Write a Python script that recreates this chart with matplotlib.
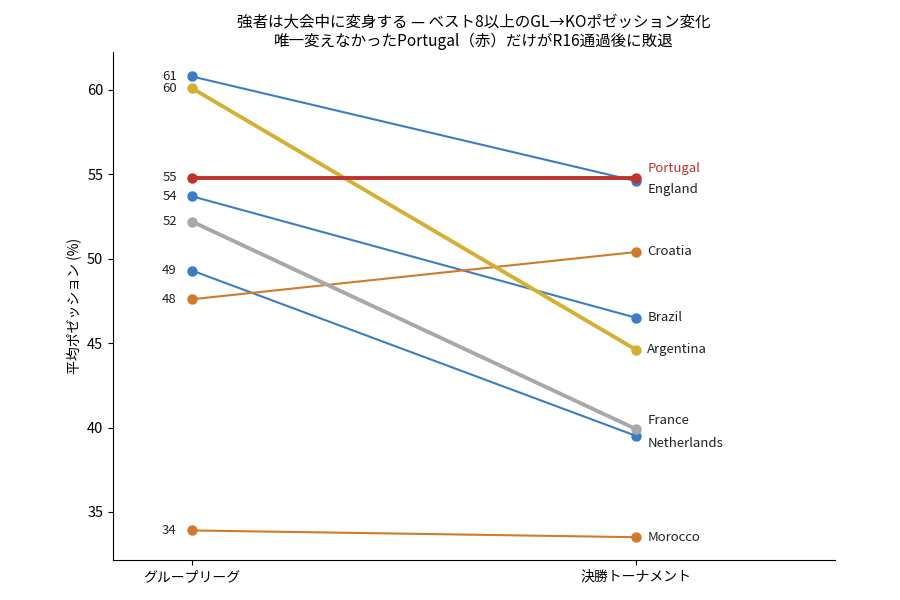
import matplotlib
matplotlib.use("Agg")
import matplotlib.pyplot as plt

plt.rcParams['font.family'] = ['Noto Sans CJK JP', 'DejaVu Sans']

stages = ["グループリーグ", "決勝トーナメント"]
teams = ["England", "Argentina", "Portugal", "Brazil", "France", "Netherlands", "Croatia", "Morocco"]
group_vals = [60.8, 60.1, 54.8, 53.7, 52.2, 49.3, 47.6, 33.9]
ko_vals = [54.6, 44.6, 54.8, 46.5, 39.9, 39.5, 50.4, 33.5]
colors = ["#3a7dc6", "#d4b032", "#c0332c", "#3a7dc6", "#a8a8a8", "#3a7dc6", "#d07b2c", "#d07b2c"]
highlight = ["Portugal", "Argentina", "France"]
right_offsets = {"Portugal": 9, "England": -8, "France": 9, "Netherlands": -8}

fig = plt.figure(figsize=(9, 6), dpi=100)
ax = fig.add_axes([0.1256, 0.0667, 0.8024, 0.8466])

order = [i for i, t in enumerate(teams) if t not in highlight] + \
        [teams.index(t) for t in ["France", "Argentina", "Portugal"]]
for i in order:
    t = teams[i]
    lw = 2.8 if t in highlight else 1.5
    ax.plot([0, 1], [group_vals[i], ko_vals[i]], color=colors[i], lw=lw,
            marker="o", markersize=6.5, zorder=3 if t in highlight else 2)

for i, t in enumerate(teams):
    ax.annotate(f"{round(group_vals[i])}", (0, group_vals[i]), xytext=(-11, 0),
                textcoords="offset points", ha="right", va="center", fontsize=9.5,
                color="#222222")
    ax.annotate(t, (1, ko_vals[i]), xytext=(8, right_offsets.get(t, 0) * 0.72),
                textcoords="offset points", ha="left", va="center", fontsize=9.5,
                color="#c0332c" if t == "Portugal" else "#222222")

ax.set_xlim(-0.178, 1.448)
ax.set_ylim(32.15, 62.25)
ax.set_xticks([0, 1])
ax.set_xticklabels(stages, fontsize=10)
ax.set_yticks([35, 40, 45, 50, 55, 60])
ax.tick_params(axis="y", labelsize=10.5)
ax.set_ylabel("平均ポゼッション (%)", fontsize=10)
for s in ["top", "right"]:
    ax.spines[s].set_visible(False)

ax.set_title("強者は大会中に変身する — ベスト8以上のGL→KOポゼッション変化\n"
             "唯一変えなかったPortugal（赤）だけがR16通過後に敗退",
             fontsize=11.2, linespacing=1.2, pad=4)

fig.savefig("out.png", dpi=100)
